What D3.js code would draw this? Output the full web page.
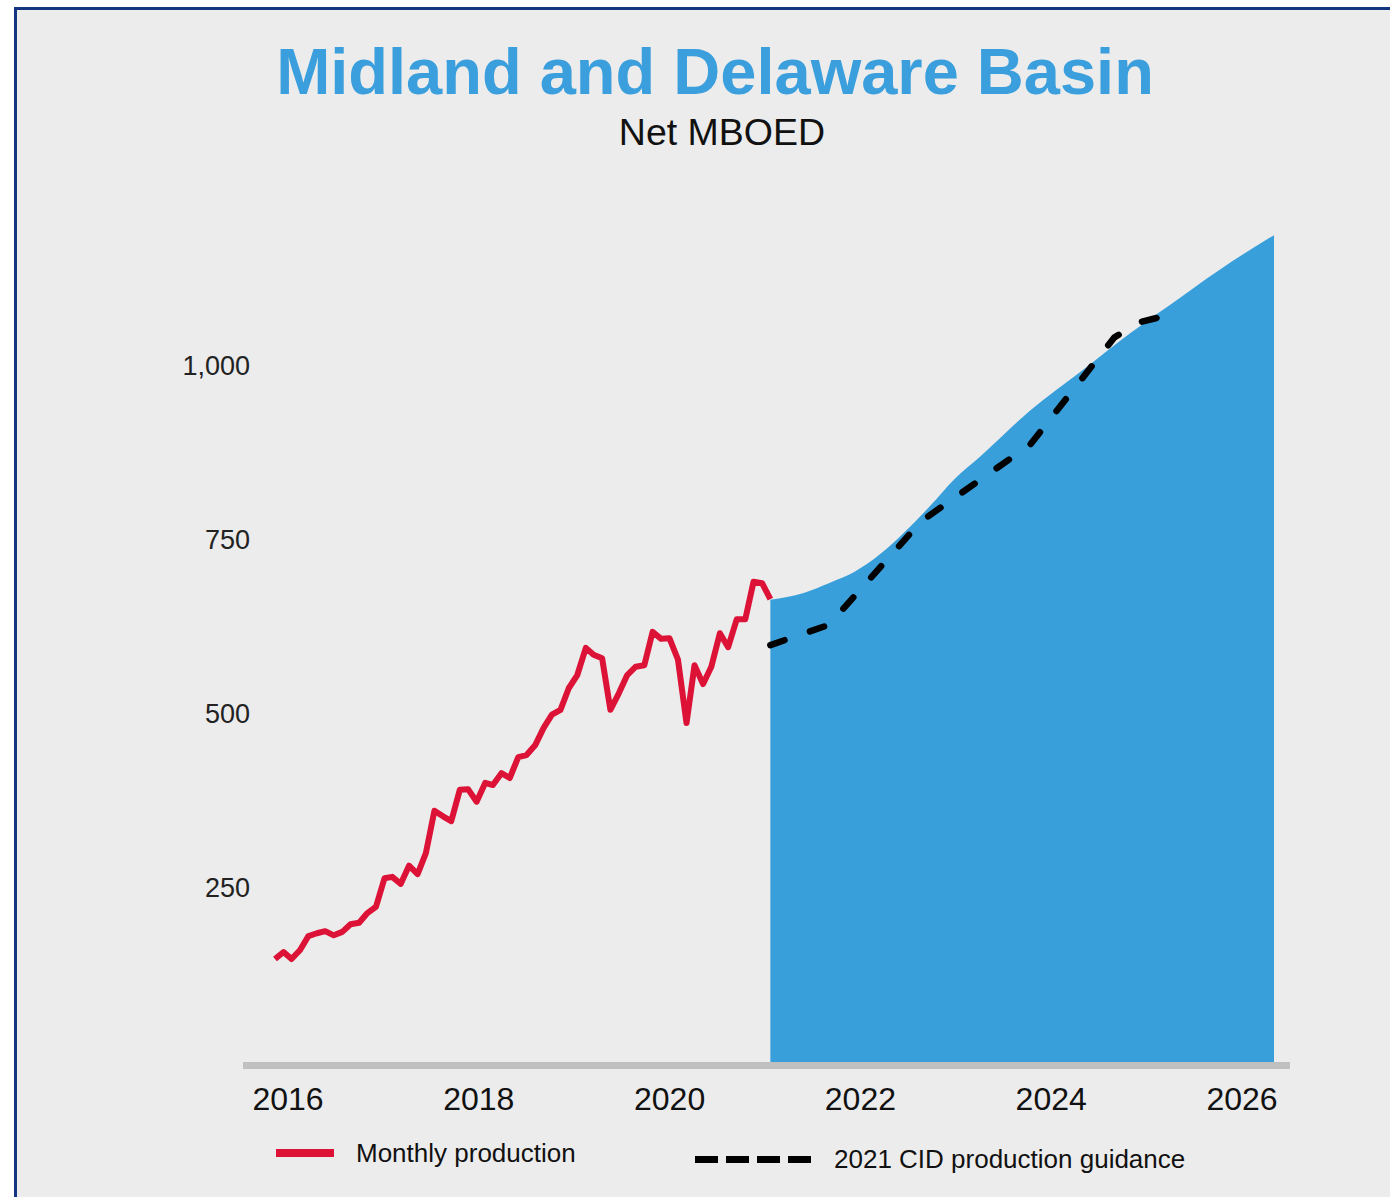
<!DOCTYPE html>
<html>
<head>
<meta charset="utf-8">
<script src="https://cdn.jsdelivr.net/npm/d3@7/dist/d3.min.js"></script>
<style>
  html, body { margin: 0; padding: 0; background: #ffffff; }
  svg { display: block; }
  text { font-family: "Liberation Sans", Arial, sans-serif; }
</style>
</head>
<body>
<script>
// ---------- data ----------
const titleText = "Midland and Delaware Basin";
const subtitleText = "Net MBOED";

// Monthly production, one value per month starting Jan 2016
const productionStart = "2016-01";
const productionValues = [
  148, 158, 148, 161, 181, 185, 188, 182, 187, 198, 200, 214,
  223, 264, 266, 256, 282, 270, 300, 361, 353, 346, 391, 392,
  374, 401, 398, 415, 408, 438, 441, 455, 480, 499, 506, 537,
  556, 595, 585, 580, 506, 530, 556, 568, 570, 618, 608, 609,
  578, 487, 570, 543, 568, 616, 596, 636, 636, 690, 688, 665
];

// Outlook area (blue)
const outlookDates = ["2020-12", "2021-04", "2021-07", "2021-10", "2022-01", "2022-04", "2022-07",
  "2022-10", "2023-01", "2023-07", "2024-01", "2024-07", "2025-01", "2025-07", "2025-12"];
const outlookValues = [664, 674, 688, 704, 729, 761, 798, 838, 870, 936, 992, 1048, 1100, 1150, 1188];

// 2021 CID production guidance (dashed)
const guidanceDates = ["2020-12", "2021-07", "2022-06", "2023-07", "2024-05", "2024-08", "2024-10"];
const guidanceValues = [599, 628, 777, 887, 1041, 1063, 1069];

// Axis labels
const yTicks = [250, 500, 750, 1000];
const xTickLabels = ["2016", "2018", "2020", "2022", "2024", "2026"];

const legendItems = ["Monthly production", "2021 CID production guidance"];

// ---------- setup ----------
const W = 1390, H = 1199;
const parseMonth = d3.timeParse("%Y-%m");
const svg = d3.select("body").append("svg").attr("width", W).attr("height", H);

// panel background + border
svg.append("rect").attr("x", 14).attr("y", 7).attr("width", W - 14).attr("height", 1190).attr("fill", "#ececec");
svg.append("line").attr("x1", 15.5).attr("x2", 15.5).attr("y1", 7).attr("y2", 1197)
  .attr("stroke", "#14357f").attr("stroke-width", 3);
svg.append("line").attr("x1", 14).attr("x2", W).attr("y1", 8.5).attr("y2", 8.5)
  .attr("stroke", "#14357f").attr("stroke-width", 3);

// scales
const x = d3.scaleTime()
  .domain([parseMonth("2016-01"), parseMonth("2025-12")])
  .range([275, 1274]);
const y = d3.scaleLinear().domain([0, 1000]).range([1062, 366]);
const xLabel = d3.scalePoint().domain(xTickLabels).range([288, 1242]);

const start = parseMonth(productionStart);
const production = productionValues.map((v, i) => ({ date: d3.timeMonth.offset(start, i), value: v }));
const outlook = outlookDates.map((d, i) => ({ date: parseMonth(d), value: outlookValues[i] }));
const guidance = guidanceDates.map((d, i) => ({ date: parseMonth(d), value: guidanceValues[i] }));

// titles
svg.append("text").attr("x", 715).attr("y", 94).attr("text-anchor", "middle")
  .attr("font-size", 65).attr("font-weight", "bold").attr("fill", "#3a9fdc").text(titleText);
svg.append("text").attr("x", 722).attr("y", 145).attr("text-anchor", "middle")
  .attr("font-size", 37.5).attr("fill", "#111").text(subtitleText);

// area
const area = d3.area().x(d => x(d.date)).y0(y(0)).y1(d => y(d.value)).curve(d3.curveMonotoneX);
svg.append("path").datum(outlook).attr("d", area).attr("fill", "#389fdb");

// x axis bar
svg.append("rect").attr("x", 243).attr("y", 1062).attr("width", 1047).attr("height", 7).attr("fill", "#c0c0c0");

// guidance dashed line (dash pattern fitted so both ends carry a dash)
const lineG = d3.line().x(d => x(d.date)).y(d => y(d.value));
const gPath = svg.append("path").datum(guidance).attr("d", lineG).attr("fill", "none")
  .attr("stroke", "#000").attr("stroke-width", 6.5).attr("stroke-linecap", "round");
const dashLen = 15;
const L = gPath.node().getTotalLength();
const nPeriods = Math.max(1, Math.round((L - dashLen) / 43));
const period = (L - dashLen) / nPeriods;
gPath.attr("stroke-dasharray", `${dashLen},${period - dashLen}`);

// production line
const lineP = d3.line().x(d => x(d.date)).y(d => y(d.value));
svg.append("path").datum(production).attr("d", lineP).attr("fill", "none")
  .attr("stroke", "#dc1236").attr("stroke-width", 6).attr("stroke-linejoin", "round");

// y tick labels
svg.append("g").selectAll("text").data(yTicks).join("text")
  .attr("x", 250).attr("y", d => y(d)).attr("dy", "0.35em").attr("text-anchor", "end")
  .attr("font-size", 27).attr("fill", "#222").text(d3.format(","));

// x tick labels
svg.append("g").selectAll("text").data(xTickLabels).join("text")
  .attr("x", d => xLabel(d)).attr("y", 1110).attr("text-anchor", "middle")
  .attr("font-size", 32).attr("fill", "#111").text(d => d);

// legend
svg.append("rect").attr("x", 276).attr("y", 1149).attr("width", 58).attr("height", 8).attr("fill", "#dc1236");
svg.append("text").attr("x", 356).attr("y", 1162).attr("font-size", 26).attr("fill", "#111").text(legendItems[0]);
svg.append("line").attr("x1", 695).attr("x2", 811).attr("y1", 1159.5).attr("y2", 1159.5)
  .attr("stroke", "#000").attr("stroke-width", 7).attr("stroke-dasharray", "23,8");
svg.append("text").attr("x", 834).attr("y", 1168).attr("font-size", 26).attr("fill", "#111").text(legendItems[1]);
</script>
</body>
</html>
